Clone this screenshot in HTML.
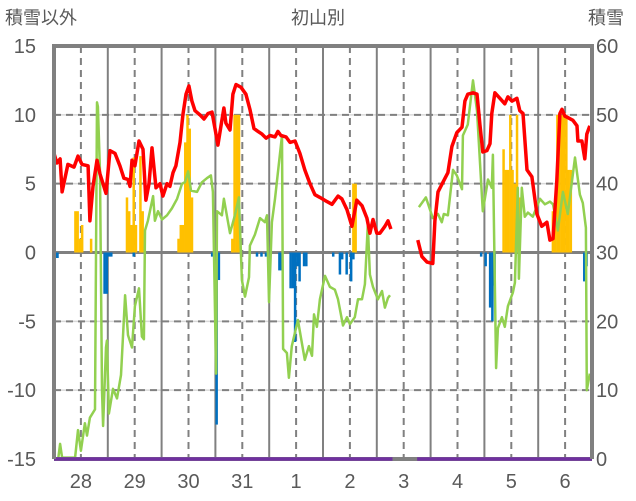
<!DOCTYPE html>
<html><head><meta charset="utf-8"><style>
body{margin:0;background:#fff;}
svg{display:block;font-family:"Liberation Sans","Noto Sans CJK JP",sans-serif;}
</style></head><body>
<svg id="chart" width="636" height="501">
<text x="5" y="24" font-size="18" fill="#595959">積雪以外</text>
<text x="318" y="24" font-size="18" fill="#595959" text-anchor="middle">初山別</text>
<text x="588" y="24" font-size="18" fill="#595959">積雪</text>
<g id="grid"></g><g id="bars"></g><g id="lines"></g><g id="axes"></g>
</svg>
<script>
const dayLabels=["28","29","30","31","1","2","3","4","5","6"];
const leftTicks=[15,10,5,0,-5,-10,-15];
const rightTicks=[60,50,40,30,20,10,0];
const redH=[0,1.3,2.7,3.6,6.2,8.9,10.7,12.5,15.2,16,17.4,19.2,20.5,23.2,25,27.2,29.4,31.2,33,33.9,34.8,36.1,37.9,39.7,41,42.4,43.7,45.5,47.3,48.6,50.4,51.7,53.1,54.4,56.2,57.5,58.9,60.2,61.5,62.9,65.1,66.9,68.7,70.5,71.8,73.1,74.5,75.8,76.7,78.5,79.8,81.2,83.4,85.6,87.4,89.2,91,92.8,94.6,96.3,98.6,99.9,101.2,103.5,105.3,107.5,109.7,111.9,114.2,116.4,118.6,121.8,124,126.7,128.4,130.7,132.9,135.1,137.4,139.6,140.9,142.3,144,145.4,147.6,149,150.3,null,162.3,164.1,166.4,169,169.9,171.3,173.5,175.7,177.5,179.7,182,183.3,184.6,186.9,188.7,190,191.3,193.1,194.5,195.3,196.7,198.9,201.1,202.5,204.3,206.5,207.8,209.2,211,213.2,215.4,217.6,219.9,221.2,222.6,224.3,225.7,226.6,227.9,229.2,231.5,233.3,233.7,235.5,236.8,237.7,239];
const redV=[7.2,6.5,6.8,4.4,6.4,6.2,7.0,6.4,6.3,2.3,4.8,6.7,5.7,4.3,7.4,7.2,6.3,5.4,5.3,4.8,6.7,6.3,8.1,7.5,3.8,5.0,7.6,4.7,5.0,4.1,5.0,4.8,5.8,6.3,8.0,10.0,11.5,12.1,11.0,10.3,10.0,9.7,10.1,10.2,9.0,7.8,9.2,10.5,9.4,8.9,11.5,12.2,12.0,11.5,10.4,9.0,8.8,8.6,8.3,8.5,8.4,8.8,8.5,8.4,8.0,8.1,7.2,6.0,5.0,4.2,4.0,3.7,3.5,4.1,3.9,3.1,1.9,3.8,3.4,2.5,1.4,2.4,1.4,1.4,1.9,2.3,1.7,null,0.9,-0.3,-0.7,-0.8,2.3,4.4,5.1,5.8,7.7,8.7,9.1,11.0,11.5,11.6,11.5,9.3,7.3,7.4,7.9,10.1,11.6,11.2,10.8,11.3,11.0,11.2,10.3,10.1,6.0,5.5,2.8,1.9,2.2,0.9,1.0,5.2,10.1,10.4,9.9,9.8,9.6,9.2,8.1,8.1,6.8,8.6,9.2];
const greenH=[1.8,2.7,3.6,9.4,10.7,12,13.8,14.7,16,18.3,19.2,19.6,20.5,21.4,21.9,23.2,23.6,24.5,26.3,28.1,29.9,31.7,33,34.8,36.1,37.9,39.2,40.1,40.6,41.9,44.2,45,46.4,48.2,50.4,52.6,54.9,57.1,58.4,59.8,61.1,63.8,66,68.2,70,70.9,72.3,72.7,74.9,75.8,78.5,80.7,82.5,83.8,85.2,87,87.4,89.6,91.9,94.1,95,95.9,97.2,98.6,101.7,102.2,103.9,104.8,106.1,108.8,111.9,113.7,115.1,116,117.3,118.6,120.9,123.1,125.3,126.7,128.9,130.7,132,134.2,135.6,137.4,138.7,140,140.9,142.3,144.5,146.3,147.6,149,149.9,null,162.8,165.9,169,171.3,173,173.9,175.7,178,179.7,182,182.4,184.6,186.9,188.7,191.3,193.6,195.3,195.8,197.2,198,199.8,201.1,202.5,204.7,205.6,206.9,207.4,208.7,210,211.4,213.6,216.8,219,221.2,222.6,224.8,227,229.2,232.4,234.6,235.9,237.3,237.7,239];
const greenV=[-15.1,-13.9,-14.9,-14.9,-12.9,-14.4,-12.4,-13.3,-12.0,-11.4,10.9,10.6,5.8,-10.0,-12.6,-6.9,-6.4,-11.7,-9.9,-10.6,-8.9,-3.1,-6.0,-6.9,-3.9,-2.6,-6.1,-6.3,1.6,2.3,4.1,2.3,3.0,2.4,2.7,3.2,3.9,5.0,5.1,5.9,4.5,4.4,5.1,5.4,5.6,4.4,-8.8,3.0,2.7,3.9,1.4,2.7,4.0,-2.0,-3.2,-1.8,0.5,1.3,2.5,2.2,2.7,-3.6,2.2,3.9,8.5,-7.0,-7.3,-9.1,-6.8,-4.9,-7.8,-6.8,-7.5,-4.5,-5.4,-3.4,-1.7,-2.5,-2.7,-3.4,-5.3,-4.7,-5.2,-4.7,-3.4,-3.4,-2.3,2.0,-1.6,-2.5,-3.4,-2.8,-4.0,-3.3,-3.1,null,3.3,4.0,2.5,2.8,2.2,2.8,2.7,6.0,5.6,4.6,8.5,9.3,12.5,10.3,3.0,5.3,4.7,7.1,-8.4,-5.5,-4.7,-5.4,-3.9,-2.9,-2.2,4.7,-1.9,4.7,2.6,2.9,2.6,3.9,3.5,3.7,3.5,1.6,4.4,2.8,6.9,4.2,3.6,1.8,-10.0,-8.8];
const snowH=[9,10,11,12,16,32,33,34,35,36,38,39,55,56,57,58,59,60,61,79,80,81,82,133,134,200,201,202,203,204,205,206,207,222,223,224,225,226,227,228,229,230];
const snowV=[3,3,1,2,1,4,3,2,6.9,2,7,3,1,2,2,8,10,9,4,1,10,10,10,5,5,7.5,6,6,10,6,5,10,4,3,3,10,10,10,10,10,6,6];
const meltH=[0,1,22,23,24,25,35,70,72,73,90,92,94,100,101,105,106,107,108,109,111,112,124,127,128,130,132,133,190,192,194,195,196,236,237];
const meltV=[-0.4,-0.4,-3,-3,-0.3,-0.3,-0.3,-0.3,-12.5,-2,-0.3,-0.3,-0.3,-1.3,-1.3,-2.6,-2.6,-6.5,-1,-2.1,-1,-1,-0.3,-1.6,-0.5,-1.6,-2.1,-0.5,-0.3,-1,-4,-5,-2.4,-2.1,-1];
const depthSegments=[[0,151],[162,240]];

const NS="http://www.w3.org/2000/svg";
const X0=54,X1=592,Y0=46,Y1=459;
const xs=h=>X0+h*(X1-X0)/240;
const ys=v=>Y0+(15-v)*(Y1-Y0)/30;
function mk(tag,attrs,parent){const e=document.createElementNS(NS,tag);for(const k in attrs)e.setAttribute(k,attrs[k]);parent.appendChild(e);return e;}
const grid=document.getElementById('grid'),bars=document.getElementById('bars'),lines=document.getElementById('lines'),axes=document.getElementById('axes');
[10,5,-5,-10].forEach(v=>{
 let l=mk('line',{x1:X0,x2:X1,y1:ys(v),y2:ys(v),stroke:'#d9d9d9','stroke-width':1.5},grid);
 
 
 let d=mk('line',{x1:X0,x2:X1,y1:ys(v),y2:ys(v),stroke:'#808080','stroke-width':2,'stroke-dasharray':'7,5'},grid);
 
 
});
for(let i=1;i<10;i++){
 let l=mk('line',{x1:xs(i*24),x2:xs(i*24),y1:Y0,y2:Y1,stroke:'#808080','stroke-width':2},grid);
 
 
}
for(let i=0;i<10;i++){
 let l=mk('line',{x1:xs(i*24+12),x2:xs(i*24+12),y1:Y0,y2:Y1,stroke:'#808080','stroke-width':2,'stroke-dasharray':'7,5'},grid);
 
 
 let t=mk('text',{x:xs(i*24+12),y:488,'font-size':20,fill:'#595959','text-anchor':'middle'},axes);
 t.textContent=dayLabels[i];
 
 
}
snowH.forEach((h,i)=>{
 let r=mk('rect',{x:xs(h),y:ys(snowV[i]),width:2.5,height:ys(0)-ys(snowV[i]),fill:'#ffc000'},bars);
 
 
});
meltH.forEach((h,i)=>{
 let r=mk('rect',{x:xs(h),y:ys(0),width:2.5,height:ys(meltV[i])-ys(0),fill:'#0070c0'},bars);
 
 
});
let z=mk('line',{x1:X0,x2:X1,y1:ys(0),y2:ys(0),stroke:'#808080','stroke-width':3},grid);


function path(H,V){let d='',pen=false;H.forEach((h,i)=>{if(h===null||V[i]===null){pen=false;return;}d+=(pen?'L':'M')+xs(h).toFixed(1)+','+ys(Math.max(-15.1,V[i])).toFixed(1);pen=true;});return d;}
let g=mk('path',{d:path(greenH,greenV),fill:'none',stroke:'#92d050','stroke-width':2.5,'stroke-linejoin':'round'},lines);


let r=mk('path',{d:path(redH,redV),fill:'none',stroke:'#ff0000','stroke-width':3.5,'stroke-linejoin':'round'},lines);


let gap=mk('line',{x1:X0,x2:X1,y1:Y1,y2:Y1,stroke:'#808080','stroke-width':4},axes);


depthSegments.forEach(s=>{
 let p=mk('line',{x1:xs(s[0]),x2:xs(s[1]),y1:Y1,y2:Y1,stroke:'#7030a0','stroke-width':3.5},axes);
 
 
});
let fr=mk('path',{d:`M${X0},${Y1}V${Y0}H${X1}V${Y1}`,fill:'none',stroke:'#808080','stroke-width':4},axes);


leftTicks.forEach(v=>{
 let t=mk('text',{x:36,y:ys(v)+7,'font-size':20,fill:'#595959','text-anchor':'end'},axes);
 t.textContent=v;
 
 
});
rightTicks.forEach(v=>{
 let t=mk('text',{x:596,y:ys(v/2-15)+7,'font-size':20,fill:'#595959'},axes);
 t.textContent=v;
 
 
});
</script>
</body></html>
